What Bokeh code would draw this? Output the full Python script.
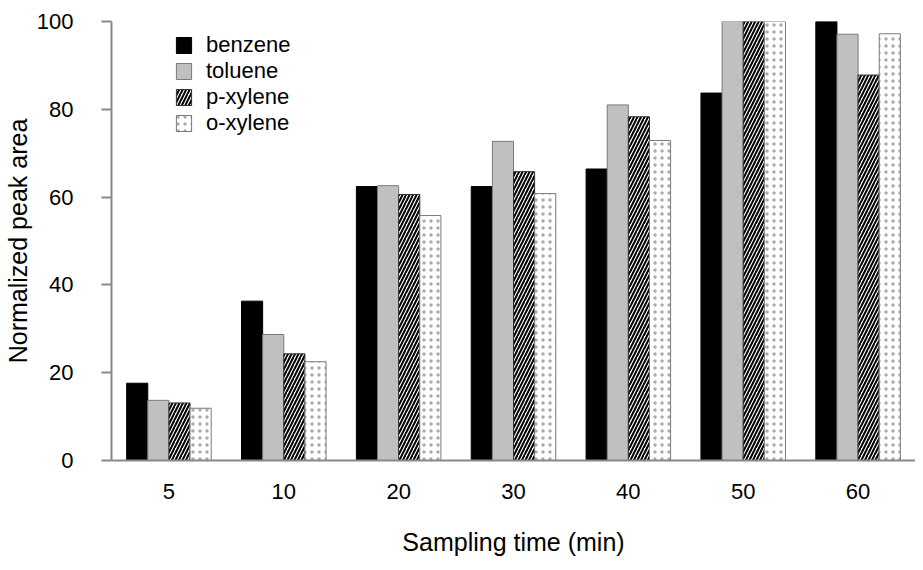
from bokeh.plotting import figure
from bokeh.models import ColumnDataSource, FactorRange, Range1d, Legend, LegendItem
from bokeh.transform import dodge
from bokeh.embed import file_html
from bokeh.resources import INLINE

times = ["5", "10", "20", "30", "40", "50", "60"]
benzene = [17.6, 36.3, 62.4, 62.4, 66.4, 83.7, 100.0]
toluene = [13.7, 28.7, 62.6, 72.7, 81.0, 100.5, 97.1]
p_xylene = [13.1, 24.3, 60.6, 65.8, 78.3, 100.0, 87.8]
o_xylene = [11.9, 22.5, 55.8, 60.8, 72.9, 100.0, 97.2]
y_ticks = [0, 20, 40, 60, 80, 100]

src = ColumnDataSource(dict(t=times, benzene=benzene, toluene=toluene,
                            p_xylene=p_xylene, o_xylene=o_xylene))

FONT = "Liberation Sans"
p = figure(width=915, height=562, x_range=FactorRange(*times), y_range=Range1d(0, 100),
           output_backend="svg", toolbar_location=None,
           min_border_left=108, min_border_right=0, min_border_top=21, min_border_bottom=102)
p.outline_line_color = None
p.xgrid.grid_line_color = None
p.ygrid.grid_line_color = None

w = 0.184
r1 = p.vbar(x=dodge("t", -1.5 * w, range=p.x_range), top="benzene", width=w, source=src,
            fill_color="black", line_color="black", line_width=1)
r2 = p.vbar(x=dodge("t", -0.5 * w, range=p.x_range), top="toluene", width=w, source=src,
            fill_color="#c0c0c0", line_color="#7a7a7a", line_width=1)
r3 = p.vbar(x=dodge("t", 0.5 * w, range=p.x_range), top="p_xylene", width=w, source=src,
            fill_color="white", line_color="#303030", line_width=1,
            hatch_pattern="right_diagonal_line", hatch_color="black", hatch_scale=7, hatch_weight=2.0)
r4 = p.vbar(x=dodge("t", 1.5 * w, range=p.x_range), top="o_xylene", width=w, source=src,
            fill_color="white", line_color="#7a7a7a", line_width=1,
            hatch_pattern="dot", hatch_color="#555555", hatch_alpha=0.5, hatch_scale=7, hatch_weight=0.5)

legend = Legend(items=[LegendItem(label="benzene", renderers=[r1]),
                       LegendItem(label="toluene", renderers=[r2]),
                       LegendItem(label="p-xylene", renderers=[r3]),
                       LegendItem(label="o-xylene", renderers=[r4])],
                location=(63, 324), padding=0, margin=0, spacing=0,
                glyph_width=19, glyph_height=20, label_height=20, label_standoff=13,
                label_text_font=FONT, label_text_font_size="22px", label_text_color="black",
                border_line_color=None, background_fill_alpha=0)
p.add_layout(legend, "center")

for ax in (p.xaxis[0], p.yaxis[0]):
    ax.axis_line_color = "#888888"
    ax.axis_line_width = 2
    ax.major_tick_line_color = "#888888"
    ax.major_tick_line_width = 2
    ax.minor_tick_line_color = None
    ax.major_label_text_font = FONT
    ax.major_label_text_font_size = "22px"
    ax.major_label_text_color = "black"
    ax.axis_label_text_font = FONT
    ax.axis_label_text_font_size = "25px"
    ax.axis_label_text_font_style = "normal"
    ax.axis_label_text_color = "black"

p.yaxis.ticker = y_ticks
p.yaxis.major_tick_out = 10
p.yaxis.major_tick_in = 0
p.yaxis.major_label_standoff = 28
p.yaxis.axis_label = "Normalized peak area"
p.yaxis.axis_label_standoff = 2

p.xaxis.major_tick_out = 0
p.xaxis.major_tick_in = 0
p.xaxis.major_tick_line_color = None
p.xaxis.major_label_standoff = 23
p.xaxis.axis_label = "Sampling time (min)"
p.xaxis.axis_label_standoff = 26

open("out.html", "w").write(file_html(p, INLINE))
